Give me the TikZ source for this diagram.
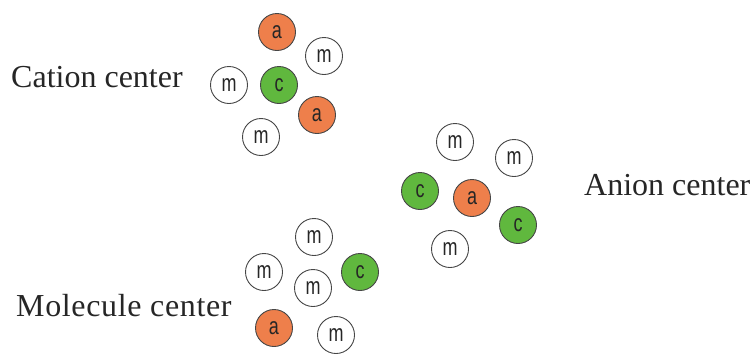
\documentclass[tikz,border=0pt]{standalone}
\usepackage{fontspec}
\setmainfont{Liberation Serif}
\newfontfamily\ballfont{Liberation Sans}
\definecolor{ballorange}{RGB}{238,127,75}
\definecolor{ballgreen}{RGB}{96,184,62}
\definecolor{ballborder}{RGB}{70,70,70}
\tikzset{
  ball/.style={circle, draw=ballborder, line width=0.9pt, minimum size=37pt, inner sep=0pt,
    font=\ballfont\fontsize{24}{24}\selectfont, text=black!85},
  aball/.style={ball, fill=ballorange},
  cball/.style={ball, fill=ballgreen},
  mball/.style={ball, fill=white},
  lbl/.style={anchor=base west, inner sep=0pt, font=\fontsize{32}{32}\selectfont, text=black!85}
}
\newcommand{\bl}[1]{\scalebox{0.75}[1]{#1}}
\begin{document}
\begin{tikzpicture}[x=1pt,y=-1pt]
\useasboundingbox (0,0) rectangle (755,354);
% Cation center
\node[aball] (ca1) at (277,32) {\bl{a}};
\node[mball] (cm1) at (324,56) {\bl{m}};
\node[mball] (cm2) at (229,85) {\bl{m}};
\node[cball] (cc)  at (279,85) {\bl{c}};
\node[aball] (ca2) at (317,115) {\bl{a}};
\node[mball] (cm3) at (261,137) {\bl{m}};
\node[lbl] (lcat) at (11,87) {Cation center};
% Anion center
\node[mball] (am1) at (455,142) {\bl{m}};
\node[mball] (am2) at (514,158) {\bl{m}};
\node[cball] (ac1) at (420,191) {\bl{c}};
\node[aball] (aa)  at (472,198) {\bl{a}};
\node[cball] (ac2) at (518,225) {\bl{c}};
\node[mball] (am3) at (450,249) {\bl{m}};
\node[lbl] (lan) at (584,195) {Anion center};
% Molecule center
\node[mball] (mm1) at (314,237) {\bl{m}};
\node[mball] (mm2) at (264,272) {\bl{m}};
\node[cball] (mc)  at (360,272) {\bl{c}};
\node[mball] (mm3) at (313,288) {\bl{m}};
\node[aball] (ma)  at (274,328) {\bl{a}};
\node[mball] (mm4) at (336,335) {\bl{m}};
\node[lbl] (lmol) at (16,316) {\addfontfeature{LetterSpace=2}Molecule center};
\end{tikzpicture}
\end{document}
